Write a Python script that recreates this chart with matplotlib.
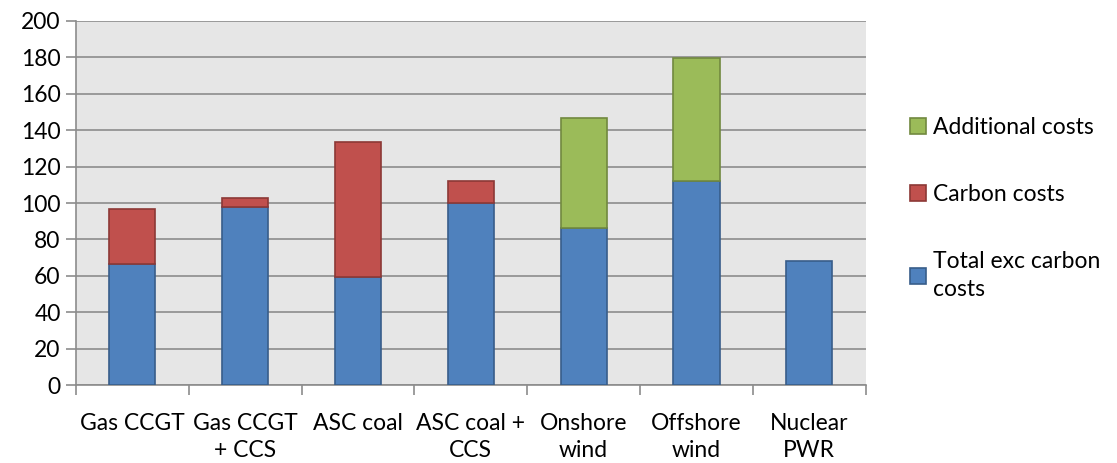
import matplotlib
matplotlib.use("Agg")
import matplotlib.pyplot as plt
import numpy as np

categories = ["Gas CCGT", "Gas CCGT\n+ CCS", "ASC coal", "ASC coal +\nCCS",
              "Onshore\nwind", "Offshore\nwind", "Nuclear\nPWR"]
total_exc_carbon = [66.5, 98.0, 59.5, 100.2, 86.1, 112.1, 68.1]
carbon_costs = [30.2, 5.0, 73.8, 12.1, 0.0, 0.0, 0.0]
additional_costs = [0.0, 0.0, 0.0, 0.0, 60.4, 67.4, 0.0]
y_ticks = [0, 20, 40, 60, 80, 100, 120, 140, 160, 180, 200]

plt.rcParams["font.family"] = ["Lato", "DejaVu Sans"]

fig = plt.figure(figsize=(11.17, 4.63), dpi=100)
ax = fig.add_axes([0.068, 0.168, 0.707, 0.787])
ax.set_facecolor("#e6e6e6")

x = np.arange(len(categories))
w = 0.41
blue, red, green = "#4f81bd", "#c0504d", "#9bbb59"

b1 = ax.bar(x, total_exc_carbon, w, color=blue, edgecolor="#385d8a", linewidth=1.2,
            label="Total exc carbon\ncosts", zorder=3)
bottom2 = np.array(total_exc_carbon)
c = np.array(carbon_costs)
m = c > 0
b2 = ax.bar(x[m], c[m], w, bottom=bottom2[m], color=red, edgecolor="#8c3836",
            linewidth=1.2, label="Carbon costs", zorder=3)
bottom3 = bottom2 + c
a = np.array(additional_costs)
m3 = a > 0
b3 = ax.bar(x[m3], a[m3], w, bottom=bottom3[m3], color=green, edgecolor="#71893f",
            linewidth=1.2, label="Additional costs", zorder=3)

ax.set_xlim(-0.5, len(categories) - 0.5)
ax.set_ylim(0, 200)
ax.set_yticks(y_ticks)
ax.yaxis.grid(True, color="#8c8c8c", linewidth=1.2, zorder=1)
ax.set_axisbelow(True)

ax.set_xticks(x)
ax.set_xticklabels(categories, fontsize=16.5, linespacing=1.38)
ax.tick_params(axis="x", length=0, pad=20)
ax.set_xticks(np.arange(-0.5, len(categories)), minor=True)
ax.tick_params(axis="x", which="minor", length=7, color="#8c8c8c", width=1.2)
ax.tick_params(axis="y", length=7, color="#8c8c8c", width=1.2, labelsize=16.5, pad=4)

for s in ["top", "right"]:
    ax.spines[s].set_visible(False)
for s in ["left", "bottom"]:
    ax.spines[s].set_color("#8c8c8c")
    ax.spines[s].set_linewidth(1.2)

handles = [b3, b2, b1]
labels = ["Additional costs", "Carbon costs", "Total exc carbon\ncosts"]
leg = fig.legend(handles, labels, loc="upper left", bbox_to_anchor=(0.796, 0.792),
                 frameon=False, fontsize=16.5, handlelength=0.7, handleheight=0.7,
                 handletextpad=0.3, labelspacing=2.0)
for t in leg.get_texts():
    t.set_linespacing(1.45)

fig.savefig("out.png", dpi=100)
